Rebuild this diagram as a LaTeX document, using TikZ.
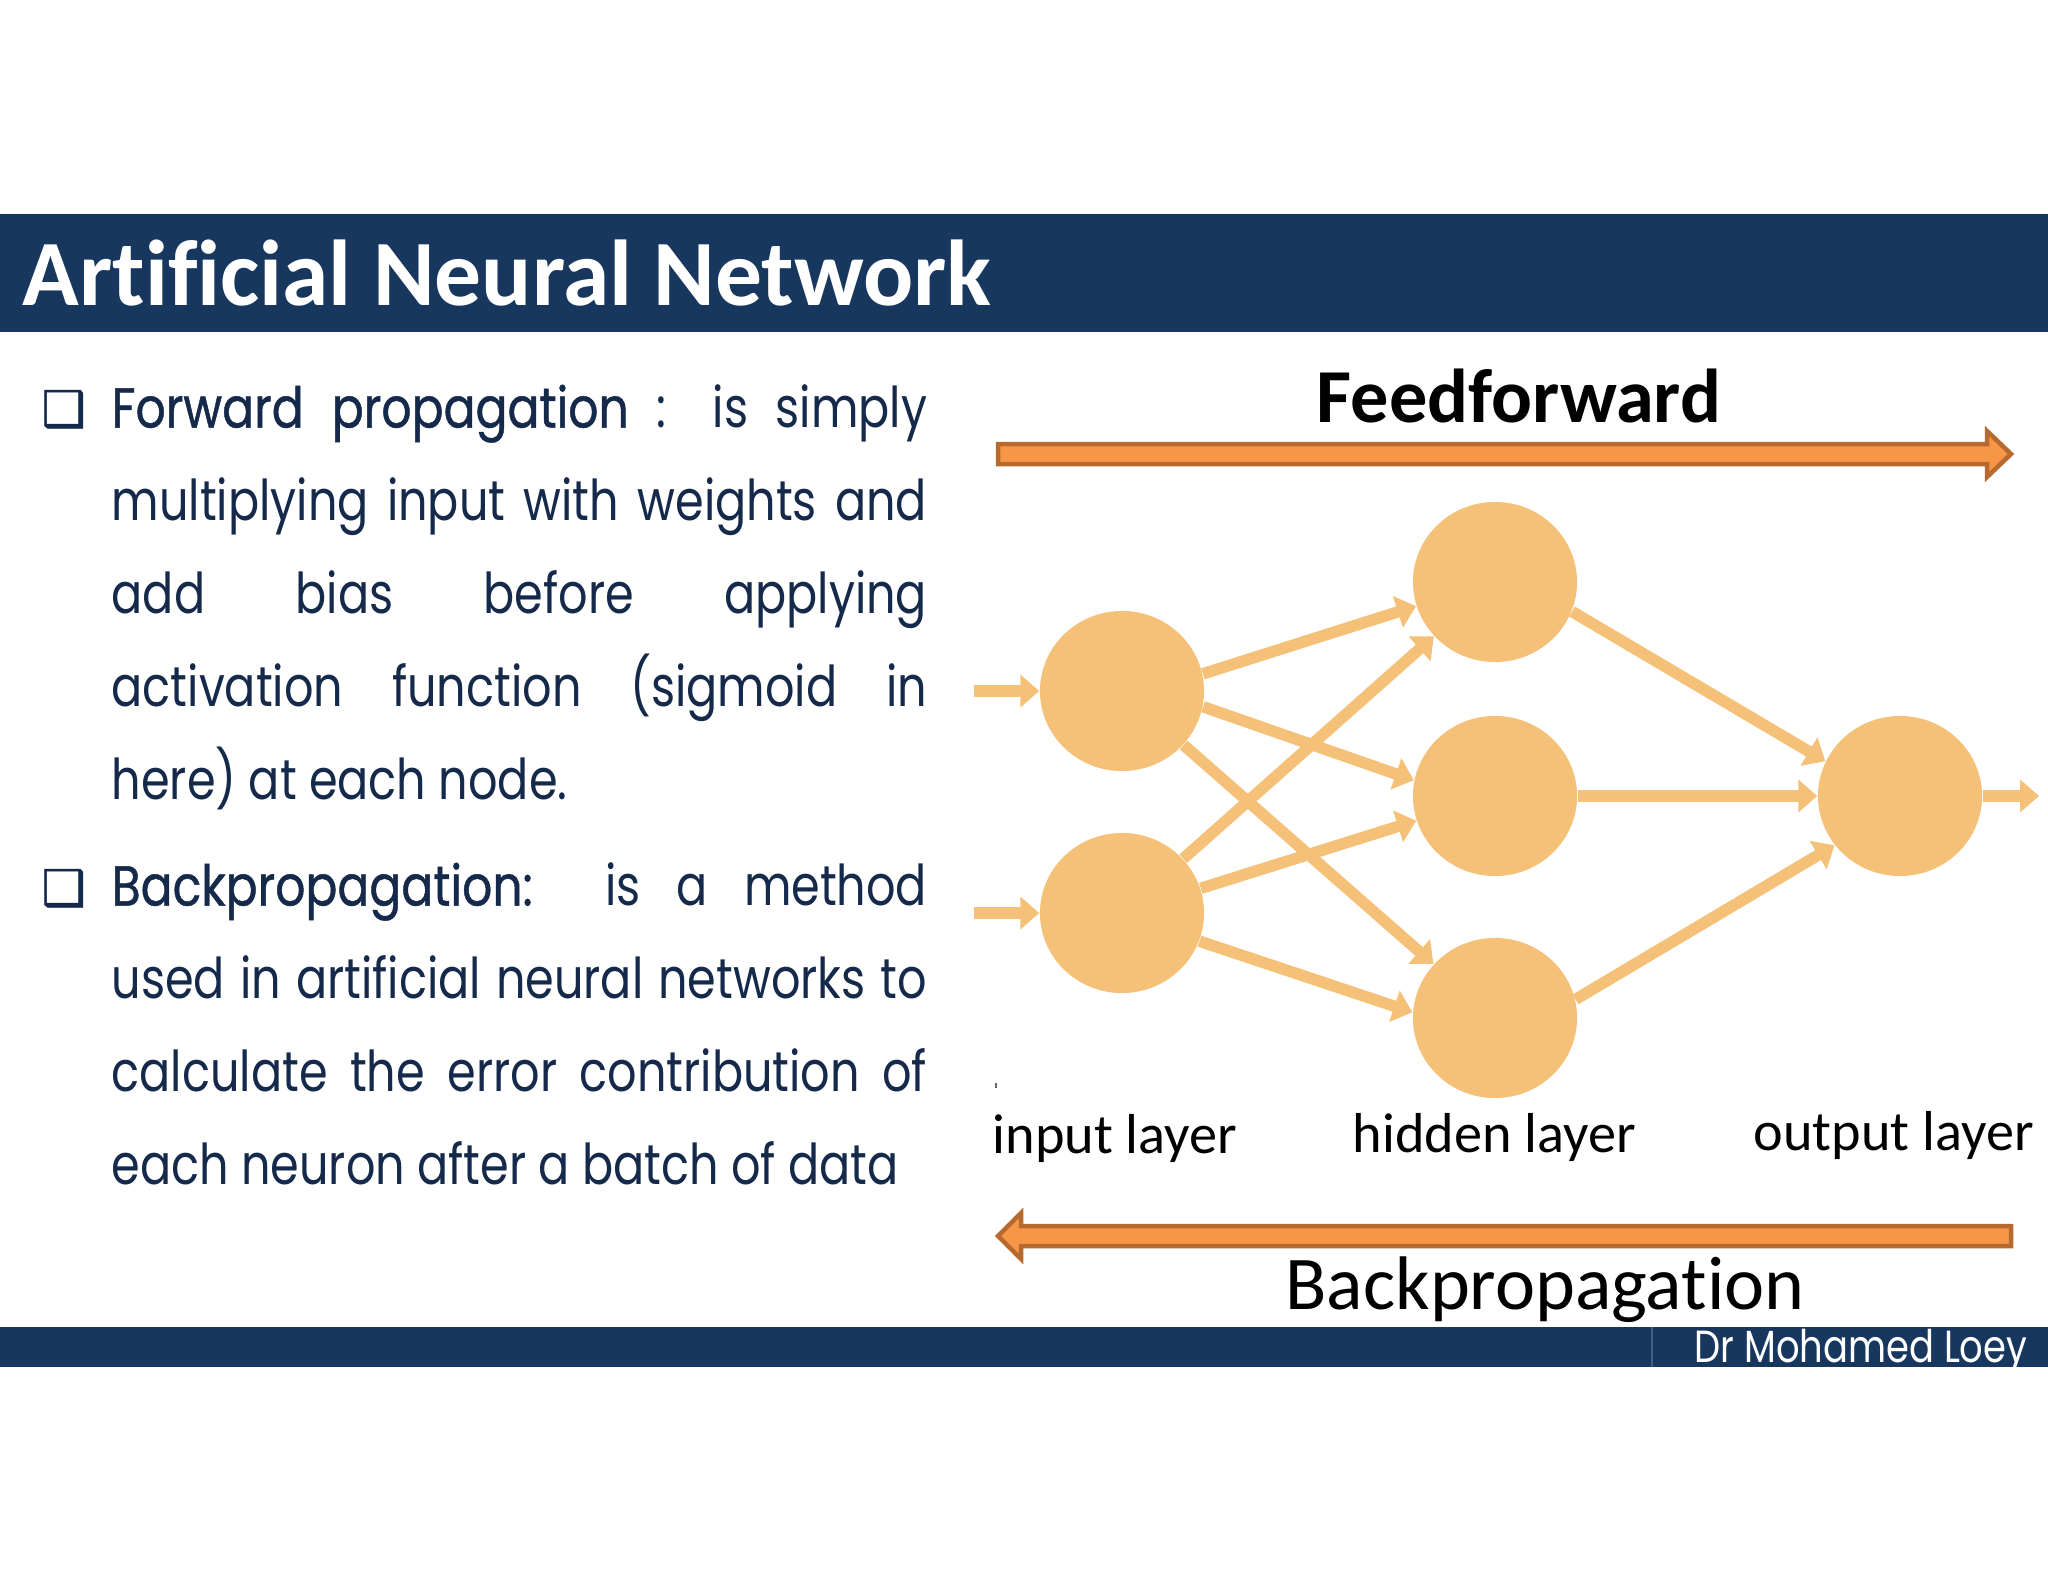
\documentclass[tikz,border=0pt]{standalone}
\usepackage{fontspec}
\usepackage{tikz}
\usetikzlibrary{arrows.meta,shapes.geometric}
\setmainfont[Ligatures=NoCommon]{Carlito}
\newfontfamily\bodyfont[FakeStretch=0.82]{Poppins}
\newfontfamily\bodyheavy[FakeStretch=0.84,FakeBold=0.8]{Poppins}
\newfontfamily\boxfont[FakeBold=1]{DejaVu Sans}
\definecolor{barblue}{HTML}{17375E}
\definecolor{inkblue}{HTML}{15294B}
\definecolor{neuron}{HTML}{F5C077}
\definecolor{bigfill}{HTML}{F79646}
\definecolor{bigedge}{HTML}{B66A30}
\tikzset{
	neuron/.style={ellipse,fill=neuron,minimum width=1.64cm,minimum height=1.6cm,inner sep=0},
	synapse/.style={draw=neuron,line width=1.15mm,-{Triangle[length=1.9mm,width=3.2mm,fill=neuron]}},
	bigarrow/.style={fill=bigfill,draw=bigedge,line width=0.45mm,line join=miter},
	lbl/.style={anchor=base west,inner sep=0,font=\fontsize{16}{18}\selectfont},
	para/.style={anchor=north west,inner sep=0,text width=8.15cm,align=justify,text=inkblue,font=\bodyfont\fontsize{16}{26.45}\selectfont},
	tick/.style={anchor=base west,inner sep=0,text=inkblue,font=\boxfont\fontsize{14}{14}\selectfont}
}
\begin{document}
\begin{tikzpicture}[x=0.01cm,y=-0.01cm]
	\useasboundingbox (0,0) rectangle (2048,1582);
	
	% bars
	\fill[barblue] (0,214) rectangle (2048,332);
	\fill[barblue] (0,1327) rectangle (2048,1367);
	\draw[barblue!80!white,line width=0.2mm] (1652,1327) -- (1652,1367);
	\node[anchor=base west,inner sep=0,text=white,font=\bfseries\fontsize{26.6}{30}\selectfont] (title) at (22,306) {Artificial Neural Network};
	\node[anchor=base east,inner sep=0,text=white,font=\bodyfont\fontsize{12.8}{14}\selectfont] (sign) at (2028,1362) {Dr Mohamed Loey};
	
	% left text
	\node[tick] (tick1) at (41,426) {❑};
	\node[para] (forward) at (111,384) {{\bodyheavy Forward propagation} : is simply\linebreak multiplying input with weights and\linebreak add bias before applying\linebreak activation function (sigmoid in\linebreak here) at each node.};
	\node[tick] (tick2) at (41,905) {❑};
	\node[para] (back) at (111,862) {{\bodyheavy Backpropagation:}\ \ is a method\linebreak used in artificial neural networks to\linebreak calculate the error contribution of\linebreak each neuron after a batch of data};
	
	% orange arrows
	\node[anchor=base,inner sep=0,font=\bfseries\fontsize{21.7}{24}\selectfont] (ff) at (1519,422) {Feedforward};
	\draw[bigarrow] (998,444) -- (1987,444) -- (1987,431) -- (2011,454) -- (1987,477) -- (1987,464) -- (998,464) -- cycle;
	\draw[bigarrow] (2011,1226) -- (1021,1226) -- (1021,1213) -- (998,1236) -- (1021,1259) -- (1021,1246) -- (2011,1246) -- cycle;
	\node[anchor=base,inner sep=0,font=\fontsize{21.6}{24}\selectfont] (bp) at (1545,1309) {Backpropagation};
	
	% network
	\node[neuron] (i1) at (1122,691) {};
	\node[neuron] (i2) at (1122,913) {};
	\node[neuron] (h1) at (1495,582) {};
	\node[neuron] (h2) at (1495,796) {};
	\node[neuron] (h3) at (1495,1018) {};
	\node[neuron] (o1) at (1900,796) {};
	\coordinate (in1) at (974,691);
	\coordinate (in2) at (974,913);
	\coordinate (out1) at (2039,796);
	
	\draw[synapse] (in1) -- (i1); \draw[synapse] (in2) -- (i2);
	\draw[synapse] (i1.12) -- (h1.197); \draw[synapse] (i1.-11) -- (h2.169); \draw[synapse] (i1) -- (h3);
	\draw[synapse] (i2) -- (h1); \draw[synapse] (i2) -- (h2); \draw[synapse] (i2.-20) -- (h3.176);
	\draw[synapse] (h1.-21) -- (o1.155); \draw[synapse] (h2) -- (o1); \draw[synapse] (h3.13) -- (o1.217);
	\draw[synapse] (o1) -- (out1);
	
	% layer names
	\node[lbl] (inlbl) at (992,1153) {input layer};
	\node[lbl] (hidlbl) at (1352,1152) {hidden layer};
	\node[lbl] (outlbl) at (1753,1150) {output layer};
	\fill[black!60] (995,1083) rectangle (997,1088);
\end{tikzpicture}
\end{document}
